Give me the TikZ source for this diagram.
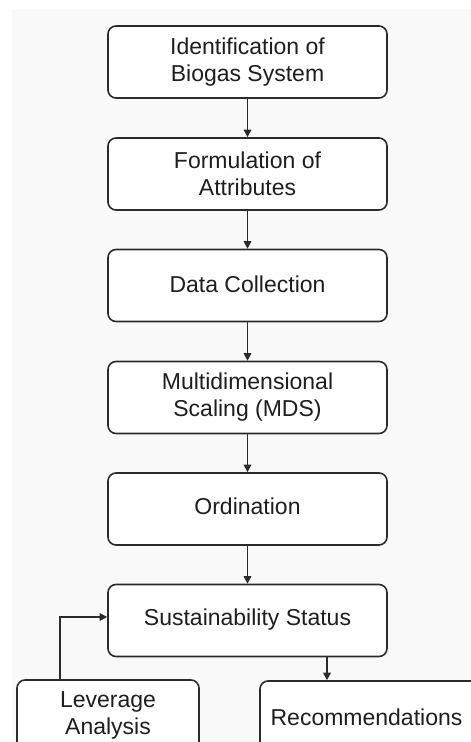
\documentclass[tikz,border=0pt]{standalone}
\usepackage{fontspec}
\setmainfont{Liberation Sans}
\usetikzlibrary{arrows.meta}
\definecolor{linec}{HTML}{2B2B2B}
\definecolor{textc}{HTML}{1E1E1E}
\definecolor{bgc}{HTML}{F9F9F9}
\tikzset{
  box/.style={draw=linec, line width=1.6pt, rounded corners=8pt, fill=white,
    minimum width=279pt, minimum height=72pt, align=center, inner sep=0pt,
    text=textc, font=\fontsize{23}{27}\selectfont},
  arr/.style={draw=linec, line width=1.6pt, -{Triangle[length=7.5pt,width=7.5pt]}}
}
\begin{document}
\begin{tikzpicture}[x=1pt,y=-1pt]
\clip (0,0) rectangle (471,742);
\fill[white] (0,0) rectangle (471,742);
\fill[bgc] (12,9) rectangle (471,742);
\node[box] (b1) at (247.5,62) {Identification of\\Biogas System};
\node[box] (b2) at (247.5,174) {Formulation of\\Attributes};
\node[box] (b3) at (247.5,285.5) {\raisebox{3.5pt}{Data Collection}};
\node[box] (b4) at (247.5,397.5) {Multidimensional\\Scaling (MDS)};
\node[box] (b5) at (247.5,509) {\raisebox{6pt}{Ordination}};
\node[box] (b6) at (247.5,620.5) {\raisebox{6.5pt}{Sustainability Status}};
\node[box, minimum width=182pt, minimum height=70pt] (lev) at (108,715) {Leverage\\Analysis};
\node[box, minimum width=226pt, minimum height=73pt] (rec) at (373,717.5) {\hspace*{-13pt}Recommendations};
\draw[arr] (b1) -- (b2);
\draw[arr] (b2) -- (b3);
\draw[arr] (b3) -- (b4);
\draw[arr] (b4) -- (b5);
\draw[arr] (b5) -- (b6);
\draw[arr] ([xshift=79.5pt]b6.south) -- ([xshift=79.5pt]b6.south |- rec.north);
\draw[arr] ([xshift=-48pt]lev.north) |- ([yshift=3.5pt]b6.west);
\end{tikzpicture}
\end{document}
